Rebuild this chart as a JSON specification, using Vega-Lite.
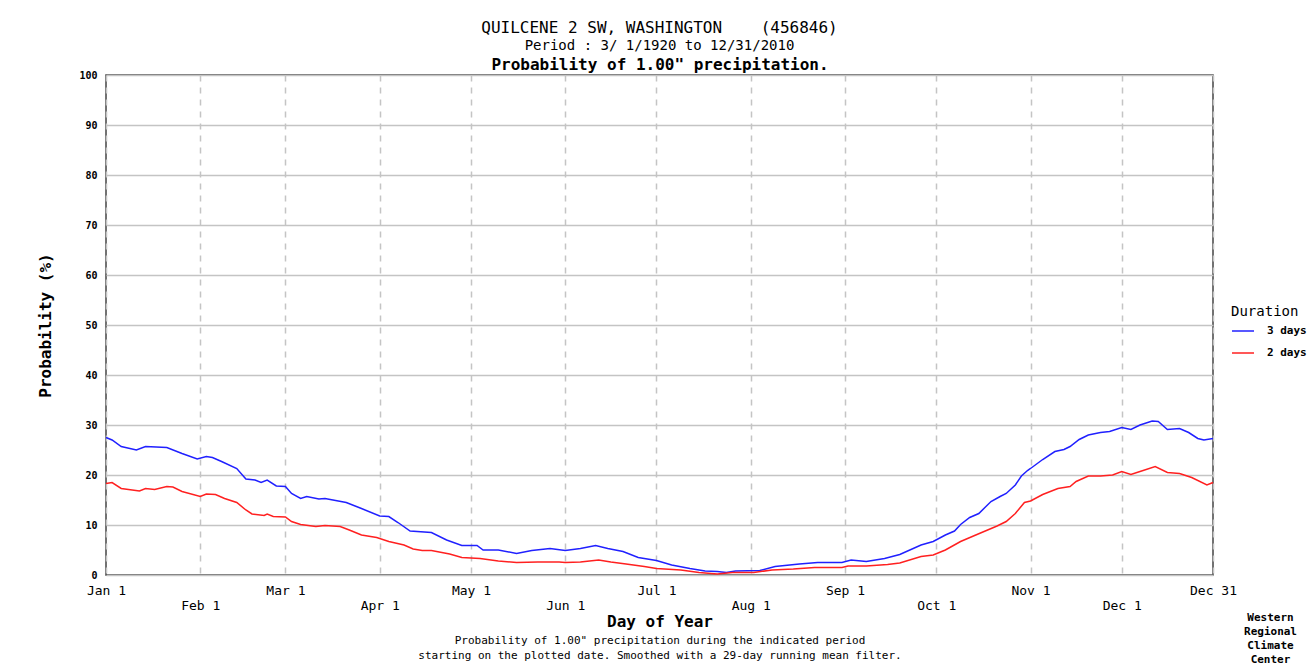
{
  "$schema": "https://vega.github.io/schema/vega-lite/v6.json",
  "width": 1107,
  "height": 500,
  "autosize": {"type": "none"},
  "padding": {"left": 106, "top": 75, "right": 103, "bottom": 91},
  "background": "white",
  "config": {
    "font": "DejaVu Sans Mono",
    "view": {"stroke": "#444444", "strokeWidth": 1.5},
    "axis": {"labelFont": "DejaVu Sans Mono", "titleFont": "DejaVu Sans Mono", "labelColor": "black", "titleColor": "black"}
  },
  "title": {
    "text": "QUILCENE 2 SW, WASHINGTON \u00a0\u00a0\u00a0(456846)",
    "subtitle": "Period : 3/\u00a01/1920 to 12/31/2010",
    "font": "DejaVu Sans Mono",
    "subtitleFont": "DejaVu Sans Mono",
    "fontSize": 16,
    "fontWeight": "normal",
    "subtitleFontSize": 14,
    "subtitleColor": "black",
    "color": "black",
    "anchor": "middle",
    "offset": 3,
    "subtitlePadding": 3
  },
  "data": {
    "values": [
      {"d": 1, "p": 27.5, "s": "3 days"}, {"d": 3, "p": 27, "s": "3 days"}, {"d": 6, "p": 25.7, "s": "3 days"},
      {"d": 11, "p": 25, "s": "3 days"}, {"d": 14, "p": 25.7, "s": "3 days"}, {"d": 21, "p": 25.5, "s": "3 days"},
      {"d": 26, "p": 24.3, "s": "3 days"}, {"d": 31, "p": 23.2, "s": "3 days"}, {"d": 34, "p": 23.7, "s": "3 days"},
      {"d": 36, "p": 23.5, "s": "3 days"}, {"d": 39, "p": 22.7, "s": "3 days"}, {"d": 44, "p": 21.3, "s": "3 days"},
      {"d": 47, "p": 19.2, "s": "3 days"}, {"d": 50, "p": 19, "s": "3 days"}, {"d": 52, "p": 18.5, "s": "3 days"},
      {"d": 54, "p": 19, "s": "3 days"}, {"d": 57, "p": 17.8, "s": "3 days"}, {"d": 60, "p": 17.7, "s": "3 days"},
      {"d": 62, "p": 16.3, "s": "3 days"}, {"d": 65, "p": 15.3, "s": "3 days"}, {"d": 67, "p": 15.7, "s": "3 days"},
      {"d": 71, "p": 15.2, "s": "3 days"}, {"d": 73, "p": 15.3, "s": "3 days"}, {"d": 80, "p": 14.5, "s": "3 days"},
      {"d": 85, "p": 13.3, "s": "3 days"}, {"d": 91, "p": 11.8, "s": "3 days"}, {"d": 94, "p": 11.7, "s": "3 days"},
      {"d": 97, "p": 10.5, "s": "3 days"}, {"d": 101, "p": 8.8, "s": "3 days"}, {"d": 108, "p": 8.5, "s": "3 days"},
      {"d": 113, "p": 7, "s": "3 days"}, {"d": 118, "p": 5.9, "s": "3 days"}, {"d": 123, "p": 5.9, "s": "3 days"},
      {"d": 125, "p": 5, "s": "3 days"}, {"d": 130, "p": 5, "s": "3 days"}, {"d": 136, "p": 4.3, "s": "3 days"},
      {"d": 141, "p": 4.9, "s": "3 days"}, {"d": 147, "p": 5.3, "s": "3 days"}, {"d": 152, "p": 4.9, "s": "3 days"},
      {"d": 157, "p": 5.3, "s": "3 days"}, {"d": 162, "p": 5.9, "s": "3 days"}, {"d": 166, "p": 5.3, "s": "3 days"},
      {"d": 171, "p": 4.7, "s": "3 days"}, {"d": 176, "p": 3.5, "s": "3 days"}, {"d": 182, "p": 2.9, "s": "3 days"},
      {"d": 187, "p": 2, "s": "3 days"}, {"d": 193, "p": 1.3, "s": "3 days"}, {"d": 198, "p": 0.8, "s": "3 days"},
      {"d": 202, "p": 0.7, "s": "3 days"}, {"d": 205, "p": 0.5, "s": "3 days"}, {"d": 208, "p": 0.8, "s": "3 days"},
      {"d": 216, "p": 0.9, "s": "3 days"}, {"d": 221, "p": 1.7, "s": "3 days"}, {"d": 229, "p": 2.2, "s": "3 days"},
      {"d": 235, "p": 2.5, "s": "3 days"}, {"d": 243, "p": 2.5, "s": "3 days"}, {"d": 246, "p": 3, "s": "3 days"},
      {"d": 251, "p": 2.7, "s": "3 days"}, {"d": 257, "p": 3.3, "s": "3 days"}, {"d": 262, "p": 4.1, "s": "3 days"},
      {"d": 269, "p": 6, "s": "3 days"}, {"d": 273, "p": 6.7, "s": "3 days"}, {"d": 277, "p": 8, "s": "3 days"},
      {"d": 280, "p": 8.8, "s": "3 days"}, {"d": 282, "p": 10.1, "s": "3 days"}, {"d": 285, "p": 11.5, "s": "3 days"},
      {"d": 288, "p": 12.3, "s": "3 days"}, {"d": 292, "p": 14.7, "s": "3 days"}, {"d": 295, "p": 15.7, "s": "3 days"},
      {"d": 297, "p": 16.3, "s": "3 days"}, {"d": 300, "p": 18, "s": "3 days"}, {"d": 302, "p": 19.8, "s": "3 days"},
      {"d": 304, "p": 20.9, "s": "3 days"}, {"d": 305, "p": 21.3, "s": "3 days"}, {"d": 309, "p": 23.1, "s": "3 days"},
      {"d": 313, "p": 24.7, "s": "3 days"}, {"d": 316, "p": 25.1, "s": "3 days"}, {"d": 318, "p": 25.7, "s": "3 days"},
      {"d": 321, "p": 27.1, "s": "3 days"}, {"d": 324, "p": 28, "s": "3 days"}, {"d": 328, "p": 28.5, "s": "3 days"},
      {"d": 331, "p": 28.7, "s": "3 days"}, {"d": 335, "p": 29.5, "s": "3 days"}, {"d": 338, "p": 29.1, "s": "3 days"},
      {"d": 341, "p": 30, "s": "3 days"}, {"d": 345, "p": 30.8, "s": "3 days"}, {"d": 347, "p": 30.7, "s": "3 days"},
      {"d": 350, "p": 29.1, "s": "3 days"}, {"d": 354, "p": 29.3, "s": "3 days"}, {"d": 357, "p": 28.5, "s": "3 days"},
      {"d": 360, "p": 27.3, "s": "3 days"}, {"d": 362, "p": 27, "s": "3 days"}, {"d": 365, "p": 27.3, "s": "3 days"},
      {"d": 1, "p": 18.3, "s": "2 days"}, {"d": 3, "p": 18.5, "s": "2 days"}, {"d": 6, "p": 17.3, "s": "2 days"},
      {"d": 12, "p": 16.8, "s": "2 days"}, {"d": 14, "p": 17.3, "s": "2 days"}, {"d": 17, "p": 17.1, "s": "2 days"},
      {"d": 21, "p": 17.7, "s": "2 days"}, {"d": 23, "p": 17.6, "s": "2 days"}, {"d": 26, "p": 16.7, "s": "2 days"},
      {"d": 32, "p": 15.7, "s": "2 days"}, {"d": 34, "p": 16.2, "s": "2 days"}, {"d": 37, "p": 16.1, "s": "2 days"},
      {"d": 40, "p": 15.3, "s": "2 days"}, {"d": 44, "p": 14.5, "s": "2 days"}, {"d": 47, "p": 13, "s": "2 days"},
      {"d": 49, "p": 12.2, "s": "2 days"}, {"d": 53, "p": 11.9, "s": "2 days"}, {"d": 54, "p": 12.2, "s": "2 days"},
      {"d": 56, "p": 11.7, "s": "2 days"}, {"d": 60, "p": 11.6, "s": "2 days"}, {"d": 62, "p": 10.7, "s": "2 days"},
      {"d": 65, "p": 10.1, "s": "2 days"}, {"d": 70, "p": 9.7, "s": "2 days"}, {"d": 73, "p": 9.9, "s": "2 days"},
      {"d": 78, "p": 9.7, "s": "2 days"}, {"d": 81, "p": 9, "s": "2 days"}, {"d": 85, "p": 8, "s": "2 days"},
      {"d": 90, "p": 7.5, "s": "2 days"}, {"d": 94, "p": 6.7, "s": "2 days"}, {"d": 99, "p": 6, "s": "2 days"},
      {"d": 102, "p": 5.2, "s": "2 days"}, {"d": 105, "p": 4.9, "s": "2 days"}, {"d": 108, "p": 4.9, "s": "2 days"},
      {"d": 114, "p": 4.2, "s": "2 days"}, {"d": 118, "p": 3.5, "s": "2 days"}, {"d": 124, "p": 3.3, "s": "2 days"},
      {"d": 130, "p": 2.8, "s": "2 days"}, {"d": 136, "p": 2.5, "s": "2 days"}, {"d": 143, "p": 2.6, "s": "2 days"},
      {"d": 150, "p": 2.6, "s": "2 days"}, {"d": 152, "p": 2.5, "s": "2 days"}, {"d": 157, "p": 2.6, "s": "2 days"},
      {"d": 163, "p": 3, "s": "2 days"}, {"d": 167, "p": 2.6, "s": "2 days"}, {"d": 172, "p": 2.2, "s": "2 days"},
      {"d": 178, "p": 1.7, "s": "2 days"}, {"d": 182, "p": 1.3, "s": "2 days"}, {"d": 190, "p": 1, "s": "2 days"},
      {"d": 196, "p": 0.5, "s": "2 days"}, {"d": 202, "p": 0.2, "s": "2 days"}, {"d": 207, "p": 0.5, "s": "2 days"},
      {"d": 214, "p": 0.5, "s": "2 days"}, {"d": 220, "p": 1, "s": "2 days"}, {"d": 227, "p": 1.2, "s": "2 days"},
      {"d": 234, "p": 1.5, "s": "2 days"}, {"d": 243, "p": 1.5, "s": "2 days"}, {"d": 245, "p": 1.8, "s": "2 days"},
      {"d": 251, "p": 1.8, "s": "2 days"}, {"d": 258, "p": 2.1, "s": "2 days"}, {"d": 262, "p": 2.4, "s": "2 days"},
      {"d": 269, "p": 3.7, "s": "2 days"}, {"d": 273, "p": 4, "s": "2 days"}, {"d": 277, "p": 5, "s": "2 days"},
      {"d": 282, "p": 6.7, "s": "2 days"}, {"d": 287, "p": 8, "s": "2 days"}, {"d": 294, "p": 9.8, "s": "2 days"},
      {"d": 297, "p": 10.7, "s": "2 days"}, {"d": 300, "p": 12.3, "s": "2 days"}, {"d": 303, "p": 14.5, "s": "2 days"},
      {"d": 305, "p": 14.8, "s": "2 days"}, {"d": 309, "p": 16.1, "s": "2 days"}, {"d": 314, "p": 17.3, "s": "2 days"},
      {"d": 318, "p": 17.7, "s": "2 days"}, {"d": 320, "p": 18.7, "s": "2 days"}, {"d": 324, "p": 19.8, "s": "2 days"},
      {"d": 328, "p": 19.8, "s": "2 days"}, {"d": 332, "p": 20, "s": "2 days"}, {"d": 335, "p": 20.7, "s": "2 days"},
      {"d": 338, "p": 20.1, "s": "2 days"}, {"d": 341, "p": 20.7, "s": "2 days"}, {"d": 346, "p": 21.7, "s": "2 days"},
      {"d": 350, "p": 20.5, "s": "2 days"}, {"d": 354, "p": 20.3, "s": "2 days"}, {"d": 358, "p": 19.5, "s": "2 days"},
      {"d": 363, "p": 18, "s": "2 days"}, {"d": 365, "p": 18.5, "s": "2 days"}
    ]
  },
  "layer": [
    {
      "mark": {"type": "line", "strokeWidth": 1.5, "interpolate": "linear"},
      "encoding": {
        "x": {
          "field": "d", "type": "quantitative",
          "scale": {"domain": [1, 365], "nice": false, "zero": false},
          "axis": {
            "orient": "bottom",
            "values": [1, 32, 60, 91, 121, 152, 182, 213, 244, 274, 305, 335, 365],
            "labelExpr": "[['Jan 1'],['\u00a0','Feb 1'],['Mar 1'],['\u00a0','Apr 1'],['May 1'],['\u00a0','Jun 1'],['Jul 1'],['\u00a0','Aug 1'],['Sep 1'],['\u00a0','Oct 1'],['Nov 1'],['\u00a0','Dec 1'],['Dec 31']][indexof([1,32,60,91,121,152,182,213,244,274,305,335,365], datum.value)]",
            "labelFontSize": 13,
            "labelLineHeight": 15,
            "labelBaseline": "top",
            "labelPadding": 9,
            "labelOverlap": false,
            "labelFlush": false,
            "labelBound": false,
            "ticks": false,
            "domain": false,
            "grid": true,
            "gridColor": "#c4c4c4",
            "gridDash": [6, 6],
            "gridWidth": 1.5,
            "title": "Day of Year",
            "titleFontSize": 16,
            "titleFontWeight": "bold",
            "titlePadding": 1
          }
        },
        "y": {
          "field": "p", "type": "quantitative",
          "scale": {"domain": [0, 100], "nice": false},
          "axis": {
            "values": [0, 10, 20, 30, 40, 50, 60, 70, 80, 90, 100],
            "labelFontSize": 10,
            "labelFontWeight": "bold",
            "labelPadding": 9,
            "ticks": false,
            "domain": false,
            "grid": true,
            "gridColor": "#c4c4c4",
            "gridWidth": 1.5,
            "title": "Probability (%)",
            "titleFontSize": 16,
            "titleFontWeight": "bold",
            "titlePadding": 25
          }
        },
        "color": {
          "field": "s", "type": "nominal",
          "scale": {"domain": ["3 days", "2 days"], "range": ["#2020ff", "#ff2020"]},
          "legend": {
            "title": "Duration",
            "orient": "none",
            "legendX": 1125,
            "legendY": 230,
            "padding": 0,
            "titleFont": "DejaVu Sans Mono",
            "titleFontSize": 14,
            "titleFontWeight": "normal",
            "titleColor": "black",
            "titlePadding": 0,
            "labelFont": "DejaVu Sans Mono",
            "labelFontSize": 11,
            "labelFontWeight": "bold",
            "labelColor": "black",
            "labelOffset": 12,
            "symbolType": "stroke",
            "symbolSize": 484,
            "symbolStrokeWidth": 1.5,
            "rowPadding": 5
          }
        }
      }
    },
    {
      "mark": {"type": "point", "opacity": 0},
      "encoding": {
        "x": {
          "field": "d", "type": "quantitative",
          "axis": {
            "orient": "top", "labels": false, "ticks": false, "domain": false, "grid": false,
            "title": "Probability of 1.00\" precipitation.",
            "titleFontSize": 16, "titleFontWeight": "bold", "titlePadding": 3
          }
        }
      }
    },
    {
      "mark": {"type": "point", "opacity": 0},
      "encoding": {
        "x": {
          "field": "d", "type": "quantitative",
          "axis": {
            "orient": "bottom", "labels": false, "ticks": false, "domain": false, "grid": false,
            "title": ["Probability of 1.00\" precipitation during the indicated period", "starting on the plotted date. Smoothed with a 29-day running mean filter."],
            "titleFontSize": 11, "titleFontWeight": "normal", "titleLineHeight": 15, "titlePadding": 59
          }
        }
      }
    },
    {
      "mark": {"type": "point", "opacity": 0},
      "encoding": {
        "x": {
          "field": "d", "type": "quantitative",
          "axis": {
            "orient": "bottom", "labels": false, "ticks": false, "domain": false, "grid": false,
            "title": ["Western", "Regional", "Climate", "Center"],
            "titleFontSize": 11, "titleFontWeight": "bold", "titleLineHeight": 14,
            "titleX": 1164, "titleY": 36, "titleAlign": "center", "titleBaseline": "top"
          }
        }
      }
    }
  ],
  "resolve": {"axis": {"x": "independent"}}
}
